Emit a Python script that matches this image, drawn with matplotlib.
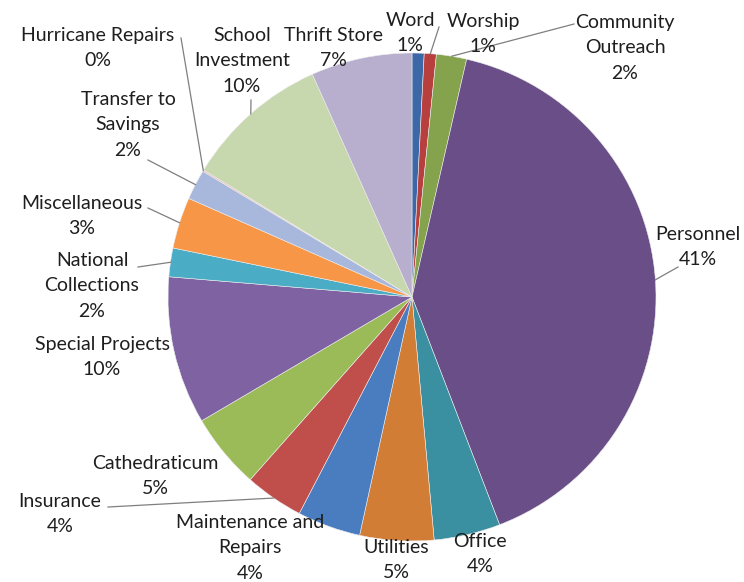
import numpy as np
import matplotlib
matplotlib.use("Agg")
import matplotlib.pyplot as plt

# slice data, clockwise from 12 o'clock
categories = ["Word", "Worship", "Community\nOutreach", "Personnel", "Office",
              "Utilities", "Maintenance and\nRepairs", "Insurance", "Cathedraticum",
              "Special Projects", "National\nCollections", "Miscellaneous",
              "Transfer to\nSavings", "Hurricane Repairs", "School\nInvestment",
              "Thrift Store"]
values = [0.8, 0.8, 2.0, 40.6, 4.4, 4.9, 4.2, 3.9, 5.0, 9.8, 1.9, 3.4, 2.0, 0.1, 9.6, 6.7]
pct_labels = ["1%", "1%", "2%", "41%", "4%", "5%", "4%", "4%", "5%", "10%",
              "2%", "3%", "2%", "0%", "10%", "7%"]
colors = ["#3C68A8", "#B7403E", "#84A34C", "#6A4E87", "#3A8FA0", "#D27D35",
          "#4A7DC0", "#C04F4C", "#9BBB59", "#7F62A1", "#4BACC6", "#F79646",
          "#A8B8DC", "#E6B9B8", "#C7D7AE", "#B8AECD"]

# label placement in pixels (block centre) and leader start (None = no leader)
W, H = 744, 582
CX, CY, R = 412, 297, 244
label_px = [(410, 33), (483, 34), (625, 48), (698, 247), (480, 554), (396, 560),
            (250, 548), (60, 514), (155, 476), (102, 357), (92, 286), (82, 216),
            (128, 125), (98, 48), (242, 61), (333, 48)]
leader_px = [None, (439, 27), (574, 24), (678, 267), None, None,
             None, (108, 507), None, None, (138, 267), (148, 208),
             (148, 160), (181, 38), (251, 100), None]


def to_data(p):
    return ((p[0] - CX) / R, (CY - p[1]) / R)


fig = plt.figure(figsize=(W / 100, H / 100), dpi=100)
ax = fig.add_axes([0, 0, 1, 1])
wedges, _ = ax.pie(values, colors=colors, startangle=90, counterclock=False,
                   radius=1, center=(0, 0),
                   wedgeprops=dict(linewidth=0.4, edgecolor="#EDEDED"))
ax.set_xlim(-CX / R, (W - CX) / R)
ax.set_ylim((CY - H) / R, CY / R)
ax.set_aspect("equal")
ax.axis("off")

for i, w in enumerate(wedges):
    x, y = to_data(label_px[i])
    ax.text(x, y, categories[i] + "\n" + pct_labels[i], ha="center", va="center",
            fontsize=14, family="Lato", color="#1E1E1E", linespacing=1.6)
    if leader_px[i] is not None:
        ang = np.deg2rad((w.theta1 + w.theta2) / 2)
        ex, ey = np.cos(ang), np.sin(ang)
        sx, sy = to_data(leader_px[i])
        ax.plot([sx, ex], [sy, ey], color="#7F7F7F", linewidth=0.9)

fig.savefig("out.png", dpi=100, facecolor="white")
